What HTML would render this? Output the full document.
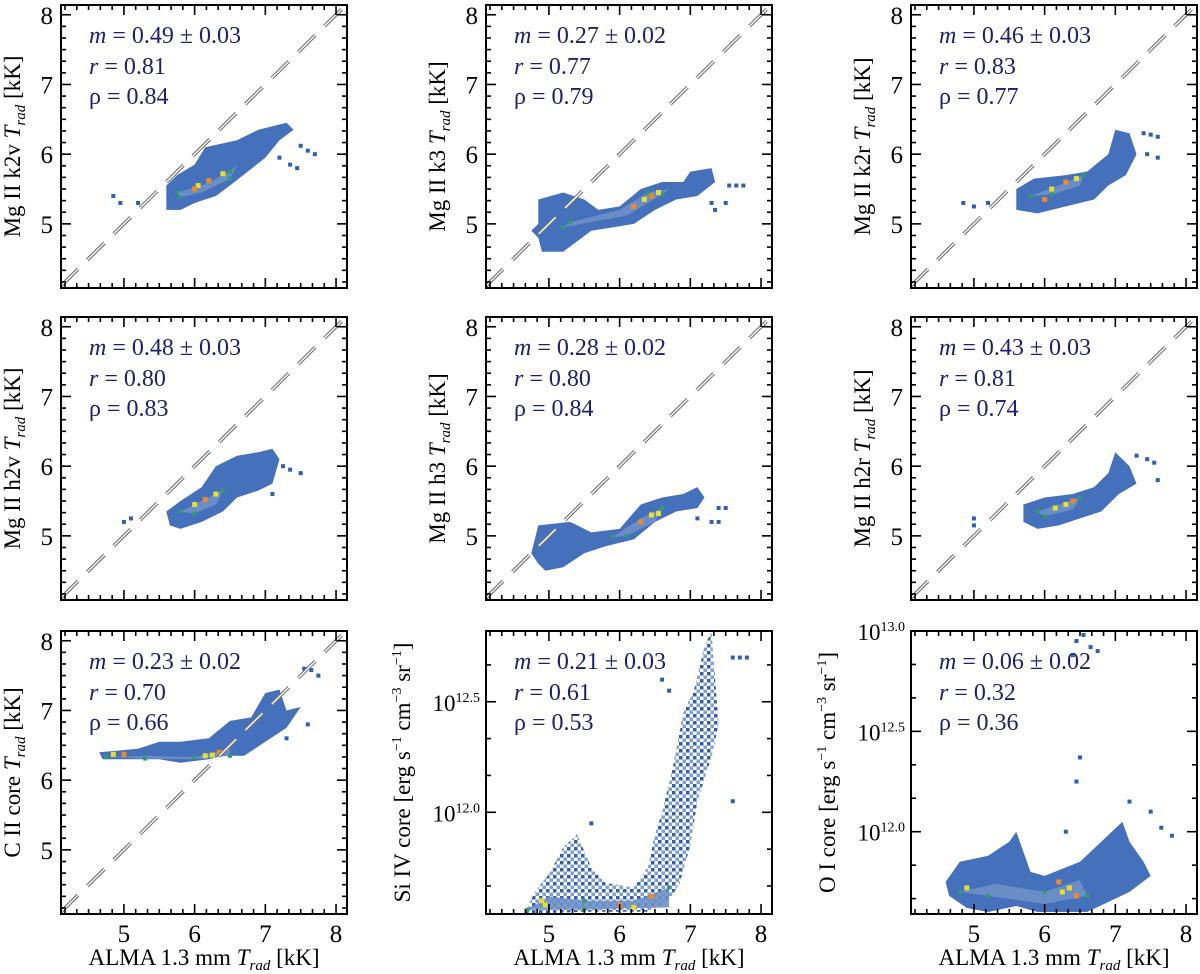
<!DOCTYPE html>
<html><head><meta charset="utf-8">
<style>
html,body{margin:0;padding:0;background:#fff;}
svg{display:block;font-family:"Liberation Serif","DejaVu Serif",serif;}
</style></head>
<body>
<svg id="fig" width="1200" height="974" viewBox="0 0 1200 974" xmlns="http://www.w3.org/2000/svg">
<defs>
<pattern id="sparse" width="7" height="7" patternUnits="userSpaceOnUse">
<rect x="0" y="0" width="3.5" height="3.5" fill="#2f5fb3"/>
<rect x="3.5" y="3.5" width="3.5" height="3.5" fill="#2f5fb3" opacity="0.6"/>
</pattern>
</defs>
</svg>
<script>
// ---------- data (data coordinates; log panels use log10 values) ----------
const panelNames = ["k2v","k3","k2r","h2v","h3","h2r","cii","siiv","oi"];
const panelLabels = ["Mg II k2v","Mg II k3","Mg II k2r","Mg II h2v","Mg II h3","Mg II h2r","C II core","Si IV core","O I core"];
const statM = ["0.49 ± 0.03","0.27 ± 0.02","0.46 ± 0.03","0.48 ± 0.03","0.28 ± 0.02","0.43 ± 0.03","0.23 ± 0.02","0.21 ± 0.03","0.06 ± 0.02"];
const statR = ["0.81","0.77","0.83","0.80","0.80","0.81","0.70","0.61","0.32"];
const statRho = ["0.84","0.79","0.77","0.83","0.84","0.74","0.66","0.53","0.36"];
const xTicks = [5,6,7,8];
const yTicksLin = [5,6,7,8];
const yTicksSi = [12.0,12.5];
const yTicksOI = [12.0,12.5,13.0];

const outerK2v = [[5.6,5.55],[5.75,5.7],[6.0,5.85],[6.15,6.1],[6.6,6.2],[6.9,6.35],[7.3,6.45],[7.4,6.35],[7.2,6.2],[7.0,5.95],[6.75,5.75],[6.5,5.55],[6.3,5.4],[6.0,5.3],[5.8,5.2],[5.6,5.2]];
const coreK2v = [[5.75,5.45],[6.1,5.55],[6.5,5.75],[6.6,5.85],[6.5,5.65],[6.1,5.45],[5.8,5.38]];
const hotK2v = [[6.05,5.55],[6.2,5.62],[6.4,5.72],[6.0,5.5]];
const dotsK2v = [[4.85,5.4],[4.95,5.3],[5.2,5.3],[7.5,6.12],[7.6,6.05],[7.7,6.0],[7.2,5.95],[7.35,5.85],[7.45,5.8]];

const outerK3 = [[4.75,4.9],[4.85,5.0],[4.85,5.35],[5.2,5.45],[5.5,5.35],[5.7,5.2],[6.0,5.25],[6.3,5.5],[6.6,5.6],[6.9,5.6],[7.0,5.75],[7.3,5.8],[7.35,5.6],[7.1,5.4],[6.8,5.35],[6.5,5.2],[6.2,5.0],[5.9,4.95],[5.6,4.9],[5.4,4.75],[5.2,4.6],[4.9,4.6],[4.85,4.8]];
const coreK3 = [[5.2,4.95],[6.1,5.12],[6.6,5.42],[6.7,5.5],[6.4,5.45],[6.0,5.2],[5.3,5.02]];
const hotK3 = [[6.55,5.45],[6.45,5.4],[6.35,5.35],[6.2,5.25]];
const dotsK3 = [[7.55,5.55],[7.65,5.55],[7.75,5.55],[7.3,5.3],[7.5,5.3],[7.35,5.2]];

const outerK2r = [[5.6,5.5],[5.85,5.65],[6.3,5.7],[6.6,5.75],[6.9,6.0],[7.0,6.35],[7.2,6.3],[7.3,6.0],[7.15,5.7],[6.9,5.55],[6.7,5.35],[6.3,5.25],[5.9,5.15],[5.6,5.2]];
const coreK2r = [[5.8,5.4],[6.2,5.55],[6.55,5.7],[6.5,5.55],[6.1,5.42]];
const hotK2r = [[6.1,5.5],[6.3,5.6],[6.45,5.65],[6.0,5.35]];
const dotsK2r = [[4.85,5.3],[5.0,5.25],[5.2,5.3],[7.4,6.3],[7.5,6.28],[7.6,6.25],[7.6,5.95],[7.45,6.0]];

const outerH2v = [[5.6,5.35],[5.8,5.5],[6.1,5.7],[6.3,6.0],[6.6,6.15],[6.9,6.2],[7.1,6.25],[7.2,6.1],[7.1,5.75],[6.9,5.65],[6.6,5.55],[6.4,5.35],[6.1,5.2],[5.8,5.1],[5.65,5.15]];
const coreH2v = [[5.8,5.35],[6.1,5.5],[6.4,5.65],[6.3,5.45],[6.0,5.32]];
const hotH2v = [[6.0,5.45],[6.15,5.52],[6.3,5.6]];
const dotsH2v = [[5.0,5.2],[5.1,5.25],[7.25,6.0],[7.35,5.95],[7.5,5.9],[7.1,5.6]];

const outerH3 = [[4.75,4.75],[4.85,5.15],[5.3,5.2],[5.6,5.05],[6.0,5.1],[6.3,5.45],[6.6,5.55],[6.9,5.6],[7.1,5.7],[7.2,5.55],[7.1,5.4],[6.8,5.35],[6.5,5.2],[6.2,4.95],[5.8,4.85],[5.5,4.75],[5.2,4.55],[4.95,4.5],[4.85,4.6]];
const coreH3 = [[5.9,4.98],[6.3,5.25],[6.6,5.4],[6.5,5.2],[6.1,5.0]];
const hotH3 = [[6.45,5.3],[6.3,5.2],[6.55,5.32]];
const dotsH3 = [[7.4,5.4],[7.5,5.4],[7.3,5.2],[7.4,5.2],[7.1,5.25]];

const outerH2r = [[5.7,5.45],[6.0,5.55],[6.4,5.6],[6.7,5.7],[6.9,5.9],[7.0,6.2],[7.2,6.0],[7.3,5.75],[7.05,5.6],[6.8,5.35],[6.5,5.25],[6.2,5.15],[5.9,5.1],[5.7,5.2]];
const coreH2r = [[5.9,5.35],[6.2,5.45],[6.5,5.55],[6.4,5.38],[6.0,5.28]];
const hotH2r = [[6.3,5.45],[6.4,5.5],[6.15,5.4]];
const dotsH2r = [[5.0,5.25],[5.0,5.15],[7.3,6.15],[7.45,6.1],[7.55,6.05],[7.6,5.8]];

const outerCii = [[4.65,6.4],[5.2,6.45],[5.5,6.55],[5.8,6.55],[6.2,6.6],[6.5,6.85],[6.8,6.9],[7.0,7.25],[7.2,7.3],[7.3,7.0],[7.5,7.05],[7.3,6.75],[7.0,6.55],[6.7,6.35],[6.4,6.35],[6.2,6.3],[5.8,6.25],[5.5,6.3],[5.0,6.3],[4.7,6.3]];
const coreCii = [[4.75,6.33],[5.3,6.35],[6.0,6.33],[6.5,6.45],[6.5,6.35],[6.0,6.3],[5.3,6.31]];
const hotCii = [[4.85,6.37],[5.0,6.37],[6.15,6.35],[6.35,6.4],[6.25,6.36]];
const dotsCii = [[7.55,7.6],[7.65,7.58],[7.75,7.5],[7.6,6.8],[7.3,6.6]];

const outerSi = [[4.65,11.54],[4.8,11.64],[5.0,11.72],[5.2,11.84],[5.4,11.9],[5.6,11.75],[5.8,11.68],[6.2,11.66],[6.4,11.75],[6.5,11.9],[6.6,12.0],[6.75,12.2],[6.9,12.45],[7.05,12.55],[7.2,12.75],[7.3,12.82],[7.35,12.6],[7.4,12.4],[7.3,12.25],[7.1,12.05],[7.0,11.85],[6.85,11.68],[6.7,11.6],[6.4,11.55],[5.5,11.55]];
const coreSi = [[4.7,11.56],[5.0,11.62],[5.5,11.6],[6.2,11.6],[6.7,11.66],[6.7,11.57],[5.5,11.56]];
const hotSi = [[4.9,11.6],[6.0,11.58],[6.2,11.57],[6.45,11.62],[4.95,11.58]];
const dotsSi = [[7.6,12.7],[7.7,12.7],[7.8,12.7],[7.6,12.05],[5.6,11.95],[6.6,12.6],[6.7,12.55]];

const outerOi = [[4.6,11.75],[4.8,11.85],[5.2,11.88],[5.5,11.95],[5.6,12.0],[5.8,11.8],[6.0,11.78],[6.5,11.85],[6.8,11.95],[7.1,12.05],[7.2,11.95],[7.4,11.85],[7.5,11.78],[7.2,11.7],[6.9,11.65],[6.6,11.6],[6.2,11.6],[5.9,11.6],[5.6,11.63],[5.2,11.6],[4.9,11.62],[4.65,11.68]];
const coreOi = [[4.8,11.7],[5.3,11.74],[6.0,11.7],[6.5,11.76],[6.6,11.68],[6.0,11.64],[5.2,11.68]];
const hotOi = [[4.9,11.72],[6.2,11.75],[6.35,11.72],[6.45,11.68],[6.25,11.7]];
const dotsOi = [[6.45,12.95],[6.55,12.98],[6.65,12.92],[6.75,12.9],[6.4,12.88],[7.5,12.1],[7.65,12.02],[7.8,11.98],[6.5,12.37],[6.45,12.25],[6.3,12.0],[7.2,12.15]];

const outers = [outerK2v,outerK3,outerK2r,outerH2v,outerH3,outerH2r,outerCii,outerSi,outerOi];
const cores = [coreK2v,coreK3,coreK2r,coreH2v,coreH3,coreH2r,coreCii,coreSi,coreOi];
const hots = [hotK2v,hotK3,hotK2r,hotH2v,hotH3,hotH2r,hotCii,hotSi,hotOi];
const dots = [dotsK2v,dotsK3,dotsK2r,dotsH2v,dotsH3,dotsH2r,dotsCii,dotsSi,dotsOi];

// ---------- layout ----------
const NS = "http://www.w3.org/2000/svg";
const svg = document.getElementById("fig");
const LEFTS = [61,486,911], TOPS = [5,317,631], W = 286, H = 283;
const XMIN = 4.11, XMAX = 8.155;

function mk(tag, attrs, parent){
  const e = document.createElementNS(NS, tag);
  for (const k in attrs) e.setAttribute(k, attrs[k]);
  (parent||svg).appendChild(e);
  return e;
}

for (let p = 0; p < 9; p++) {
  const col = p % 3, row = Math.floor(p / 3);
  const L = LEFTS[col], T = TOPS[row];
  const isLog = p >= 7;
  let ymin, ymax;
  if (p === 7) { ymin = 11.54; ymax = 12.82; }
  else if (p === 8) { ymin = 11.59; ymax = 13.0; }
  else { ymin = 4.08; ymax = 8.14; }
  const sx = v => L + (v - XMIN) / (XMAX - XMIN) * W;
  const sy = v => T + (ymax - v) / (ymax - ymin) * H;

  const g = mk("g", {});
  
  
  const cp = mk("clipPath", {id: "clip" + p}, g);
  mk("rect", {x: L, y: T, width: W, height: H}, cp);
  const data = mk("g", {"clip-path": "url(#clip" + p + ")"}, g);

  const poly = (pts, fill, op, name) => {
    const e = mk("polygon", {points: pts.map(q => sx(q[0]).toFixed(1) + "," + sy(q[1]).toFixed(1)).join(" "), fill: fill, opacity: op}, data);
    
    
  };
  if (p === 7) {
    poly(outers[p], "url(#sparse)", 1, "density-outer-" + panelNames[p]);
  } else {
    poly(outers[p], "#3464b6", 0.92, "density-outer-" + panelNames[p]);
  }
  poly(cores[p], "#6f90c6", 0.9, "density-core-" + panelNames[p]);
  const coreG = cores[p];
  for (let i = 0; i < coreG.length; i += 2) {
    const c = mk("rect", {x: sx(coreG[i][0]) - 2, y: sy(coreG[i][1]) - 2, width: 4, height: 4, fill: "#2f9a72"}, data);
    
    
  }
  hots[p].forEach((h, i) => {
    const c = mk("rect", {x: sx(h[0]) - 2.5, y: sy(h[1]) - 2.5, width: 5, height: 5, fill: i % 2 ? "#ec8a2a" : "#e4e030"}, data);
    
    
  });
  dots[p].forEach(d => {
    const c = mk("rect", {x: sx(d[0]) - 2, y: sy(d[1]) - 2, width: 4, height: 4, fill: "#2f5fb3"}, data);
    
    
  });

  // diagonal y = x
  if (!isLog) {
    const a = Math.max(XMIN, ymin), b = Math.min(XMAX, ymax);
    const dl = mk("line", {x1: sx(a), y1: sy(a), x2: sx(b), y2: sy(b), stroke: "#777", "stroke-width": 3.6, "stroke-dasharray": "24 13"}, data);
    
    
    mk("line", {x1: sx(a), y1: sy(a), x2: sx(b), y2: sy(b), stroke: "#fff", "stroke-width": 1.3, "stroke-dasharray": "24 13"}, data);
  }

  // frame
  const fr = mk("rect", {x: L, y: T, width: W, height: H, fill: "none", stroke: "#000", "stroke-width": 2}, g);
  
  

  // x ticks (top and bottom)
  for (let k = 25; k <= 48; k++) {
    const v = k / 6; if (v < XMIN || v > XMAX) continue;
    const major = k % 6 === 0, len = major ? 10 : 5, x = sx(v);
    mk("line", {x1: x, y1: T + H, x2: x, y2: T + H - len, stroke: "#000", "stroke-width": 1.6}, g);
    mk("line", {x1: x, y1: T, x2: x, y2: T + len, stroke: "#000", "stroke-width": 1.6}, g);
  }
  // y ticks
  if (!isLog) {
    for (let k = 25; k <= 48; k++) {
      const v = k / 6; if (v < ymin || v > ymax) continue;
      const major = k % 6 === 0, len = major ? 10 : 5, y = sy(v);
      mk("line", {x1: L, y1: y, x2: L + len, y2: y, stroke: "#000", "stroke-width": 1.6}, g);
      mk("line", {x1: L + W, y1: y, x2: L + W - len, y2: y, stroke: "#000", "stroke-width": 1.6}, g);
    }
    yTicksLin.forEach(v => {
      const t = mk("text", {x: L - 8, y: sy(v) + 9, "text-anchor": "end", "font-size": 25}, g);
      t.textContent = v;
      
      
    });
  } else {
    for (let k = 69; k <= 78; k++) {
      const v = k / 6; if (v < ymin || v > ymax + 0.001) continue;
      const major = k % 3 === 0, len = major ? 10 : 5, y = sy(v);
      mk("line", {x1: L, y1: y, x2: L + len, y2: y, stroke: "#000", "stroke-width": 1.6}, g);
      mk("line", {x1: L + W, y1: y, x2: L + W - len, y2: y, stroke: "#000", "stroke-width": 1.6}, g);
    }
    (p === 7 ? yTicksSi : yTicksOI).forEach(v => {
      const t = mk("text", {x: L - 6, y: sy(v) + 9, "text-anchor": "end", "font-size": 23}, g);
      const a = mk("tspan", {}, t); a.textContent = "10";
      const b = mk("tspan", {dy: -9, "font-size": 14}, t); b.textContent = v.toFixed(1);
      
      
    });
  }

  // y axis title
  const cx = L - (isLog ? 76 : 41), cy = T + H / 2;
  const yt = mk("text", {x: cx, y: cy, "text-anchor": "middle", "font-size": 23, transform: "rotate(-90 " + cx + " " + cy + ")"}, g);
  
  
  if (!isLog) {
    mk("tspan", {}, yt).textContent = panelLabels[p] + " ";
    mk("tspan", {"font-style": "italic"}, yt).textContent = "T";
    mk("tspan", {"font-style": "italic", "font-size": 15, dy: 5}, yt).textContent = "rad";
    mk("tspan", {dy: -5}, yt).textContent = " [kK]";
  } else {
    mk("tspan", {}, yt).textContent = panelLabels[p] + " [erg s";
    mk("tspan", {"font-size": 14, dy: -9}, yt).textContent = "−1";
    mk("tspan", {dy: 9}, yt).textContent = " cm";
    mk("tspan", {"font-size": 14, dy: -9}, yt).textContent = "−3";
    mk("tspan", {dy: 9}, yt).textContent = " sr";
    mk("tspan", {"font-size": 14, dy: -9}, yt).textContent = "−1";
    mk("tspan", {dy: 9}, yt).textContent = "]";
  }

  // stats
  const col2 = "#20206e";
  const s1 = mk("text", {x: L + 28, y: T + 38, "font-size": 24, fill: col2}, g);
  mk("tspan", {"font-style": "italic"}, s1).textContent = "m";
  mk("tspan", {}, s1).textContent = " = " + statM[p];
  
  
  const s2 = mk("text", {x: L + 28, y: T + 69, "font-size": 24, fill: col2}, g);
  mk("tspan", {"font-style": "italic"}, s2).textContent = "r";
  mk("tspan", {}, s2).textContent = " = " + statR[p];
  
  
  const s3 = mk("text", {x: L + 28, y: T + 99, "font-size": 24, fill: col2}, g);
  s3.textContent = "ρ = " + statRho[p];
  
  

  // x labels on bottom row
  if (row === 2) {
    xTicks.forEach(v => {
      const t = mk("text", {x: sx(v), y: 942, "text-anchor": "middle", "font-size": 25}, g);
      t.textContent = v;
      
      
    });
    const xt = mk("text", {x: L + W / 2, y: 965, "text-anchor": "middle", "font-size": 23}, g);
    
    
    mk("tspan", {}, xt).textContent = "ALMA 1.3 mm ";
    mk("tspan", {"font-style": "italic"}, xt).textContent = "T";
    mk("tspan", {"font-style": "italic", "font-size": 15, dy: 5}, xt).textContent = "rad";
    mk("tspan", {dy: -5}, xt).textContent = " [kK]";
  }
}
</script>
</body></html>
